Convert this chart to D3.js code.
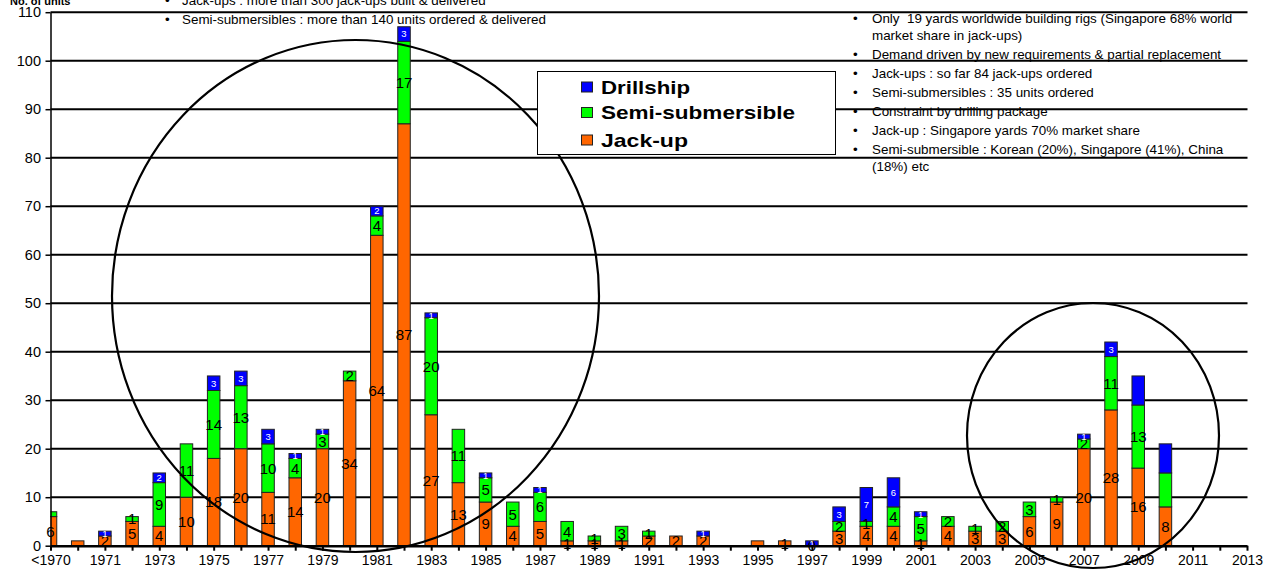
<!DOCTYPE html>
<html>
<head>
<meta charset="utf-8">
<script src="https://cdn.jsdelivr.net/npm/d3@7/dist/d3.min.js"></script>
<style>
  html, body { margin: 0; padding: 0; background: #fff; }
  svg { display: block; font-family: "Liberation Sans", Arial, sans-serif; }
  .note { white-space: pre; }
</style>
</head>
<body>
<svg id="chart" width="1265" height="572"></svg>
<script>
// Rig deliveries per year, by rig type
const categories = ["<1970", "1970", "1971", "1972", "1973", "1974", "1975", "1976", "1977", "1978",
  "1979", "1980", "1981", "1982", "1983", "1984", "1985", "1986", "1987", "1988",
  "1989", "1990", "1991", "1992", "1993", "1994", "1995", "1996", "1997", "1998",
  "1999", "2000", "2001", "2002", "2003", "2004", "2005", "2006", "2007", "2008",
  "2009", "2010", "2011", "2012", "2013"];

const jackUp = [6, 1, 2, 5, 4, 10, 18, 20, 11, 14,
  20, 34, 64, 87, 27, 13, 9, 4, 5, 1,
  1, 1, 2, 2, 2, 0, 1, 1, 0, 3,
  4, 4, 1, 4, 3, 3, 6, 9, 20, 28,
  16, 8, 0, 0, 0];

const semiSub = [1, 0, 0, 1, 9, 11, 14, 13, 10, 4,
  3, 2, 4, 17, 20, 11, 5, 5, 6, 4,
  1, 3, 1, 0, 0, 0, 0, 0, 0, 2,
  1, 4, 5, 2, 1, 2, 3, 1, 2, 11,
  13, 7, 0, 0, 0];

const drillship = [0, 0, 1, 0, 2, 0, 3, 3, 3, 1,
  1, 0, 2, 3, 1, 0, 1, 0, 1, 0,
  0, 0, 0, 0, 1, 0, 0, 0, 1, 3,
  7, 6, 1, 0, 0, 0, 0, 0, 1, 3,
  6, 6, 0, 0, 0];

const seriesNames = ["Jack-up", "Semi-submersible", "Drillship"];
const seriesColors = ["#FF6600", "#00FF00", "#0000FF"];
const yTicks = [0, 10, 20, 30, 40, 50, 60, 70, 80, 90, 100, 110];

// value labels left off, and zero values that still get a label
const hiddenLabels = ["Semi-submersible|<1970", "Jack-up|1970", "Jack-up|1995",
  "Drillship|2009", "Semi-submersible|2010", "Drillship|2010"];
const zeroLabels = ["Jack-up|1997"];

const notesLeft = [
  "Jack-ups : more than 300 jack-ups built & delivered",
  "Semi-submersibles : more than 140 units ordered & delivered"
];
const notesRight = [
  ["Only  19 yards worldwide building rigs (Singapore 68% world", "market share in jack-ups)"],
  ["Demand driven by new requirements & partial replacement"],
  ["Jack-ups : so far 84 jack-ups ordered"],
  ["Semi-submersibles : 35 units ordered"],
  ["Constraint by drilling package"],
  ["Jack-up : Singapore yards 70% market share"],
  ["Semi-submersible : Korean (20%), Singapore (41%), China", "(18%) etc"]
];

const svg = d3.select("#chart");
const plotLeft = 50.5, plotRight = 1247.5, plotTop = 12.2, plotBottom = 545.7;

const x = d3.scalePoint().domain(categories).range([plotLeft, 1247]);
const y = d3.scaleLinear().domain([0, 110]).range([plotBottom, plotTop]);
const barW = 12.5;

const rows = categories.map((c, i) => ({
  cat: c, "Jack-up": jackUp[i], "Semi-submersible": semiSub[i], "Drillship": drillship[i]
}));
const stacked = d3.stack().keys(seriesNames)(rows);

svg.append("defs").append("clipPath").attr("id", "plotClip")
  .append("rect").attr("x", plotLeft).attr("y", 0)
  .attr("width", plotRight - plotLeft).attr("height", plotBottom + 1);

// horizontal gridlines (top one closes the frame)
svg.append("g").selectAll("line").data(yTicks.filter(v => v > 0)).join("line")
  .attr("x1", plotLeft).attr("x2", plotRight)
  .attr("y1", d => y(d)).attr("y2", d => y(d))
  .attr("stroke", "#000").attr("stroke-width", 2);

// stacked bars
const barsG = svg.append("g").attr("clip-path", "url(#plotClip)");
stacked.forEach((s, si) => {
  barsG.append("g").selectAll("rect").data(s.filter(d => d[1] - d[0] > 0)).join("rect")
    .attr("x", d => x(d.data.cat) - barW / 2)
    .attr("width", barW)
    .attr("y", d => y(d[1]))
    .attr("height", d => y(d[0]) - y(d[1]))
    .attr("fill", seriesColors[si])
    .attr("stroke", "#222").attr("stroke-width", 1);
});

// value labels
stacked.forEach((s, si) => {
  const name = seriesNames[si];
  const data = s.filter(d => {
    const key = name + "|" + d.data.cat;
    const v = d[1] - d[0];
    if (hiddenLabels.includes(key)) return false;
    return v > 0 || zeroLabels.includes(key);
  });
  svg.append("g").selectAll("text").data(data).join("text")
    .attr("x", d => x(d.data.cat))
    .attr("y", d => y((d[0] + d[1]) / 2))
    .attr("dy", "0.36em")
    .attr("text-anchor", "middle")
    .attr("font-size", name === "Drillship" ? 9.5 : 15)
    .attr("fill", name === "Drillship" ? "#fff" : "#000")
    .text(d => d[1] - d[0]);
});

// axes
const yAxis = svg.append("g").attr("transform", `translate(${plotLeft},0)`)
  .call(d3.axisLeft(y).tickValues(yTicks).tickSize(5).tickSizeOuter(0));
yAxis.select(".domain").attr("stroke", "#000").attr("stroke-width", 1.5);
yAxis.selectAll(".tick line").attr("stroke", "#000").attr("stroke-width", 1.5);
yAxis.selectAll("text").attr("font-size", 14.5).attr("fill", "#000").attr("x", -9.5)
  .attr("font-family", "\"Liberation Sans\", Arial, sans-serif");

const xAxis = svg.append("g").attr("transform", `translate(0,${plotBottom})`)
  .call(d3.axisBottom(x).tickSize(5).tickSizeOuter(0)
    .tickFormat((d, i) => (i % 2 === 0 ? d : "")));
xAxis.select(".domain").attr("stroke", "#000").attr("stroke-width", 2.5);
xAxis.selectAll(".tick line").attr("stroke", "#000").attr("stroke-width", 2);
xAxis.selectAll("text").attr("font-size", 14).attr("fill", "#000").attr("y", 9)
  .attr("font-family", "\"Liberation Sans\", Arial, sans-serif");

// highlight ellipses around the two building booms
svg.append("ellipse").attr("cx", 355.5).attr("cy", 296).attr("rx", 243.5).attr("ry", 256)
  .attr("fill", "none").attr("stroke", "#000").attr("stroke-width", 2.2);
svg.append("ellipse").attr("cx", 1093).attr("cy", 435.5).attr("rx", 126).attr("ry", 132.5)
  .attr("fill", "none").attr("stroke", "#000").attr("stroke-width", 2.2);

// legend
const legend = svg.append("g");
legend.append("rect").attr("x", 537.5).attr("y", 71.5).attr("width", 298).attr("height", 83)
  .attr("fill", "#fff").attr("stroke", "#000").attr("stroke-width", 1);
const legendItems = [
  { name: "Drillship", color: seriesColors[2], y: 87, w: 89 },
  { name: "Semi-submersible", color: seriesColors[1], y: 112.5, w: 194 },
  { name: "Jack-up", color: seriesColors[0], y: 140, w: 87 }
];
legendItems.forEach(it => {
  legend.append("rect").attr("x", 581.5).attr("y", it.y - 5).attr("width", 11).attr("height", 10)
    .attr("fill", it.color).attr("stroke", "#222").attr("stroke-width", 1);
  legend.append("text").attr("x", 601).attr("y", it.y).attr("dy", "0.36em")
    .attr("font-size", 19).attr("font-weight", "bold").attr("fill", "#000")
    .attr("textLength", it.w).attr("lengthAdjust", "spacingAndGlyphs")
    .text(it.name);
});

// axis title
svg.append("text").attr("x", 10).attr("y", 5).attr("font-size", 11).attr("font-weight", "bold")
  .text("No. of units");

// notes
const notes = svg.append("g").attr("font-size", 13.4).attr("fill", "#000");
notesLeft.forEach((t, i) => {
  const by = 5 + i * 19;
  notes.append("text").attr("x", 165).attr("y", by).text("\u2022");
  notes.append("text").attr("class", "note").attr("x", 182).attr("y", by).text(t);
});
let ny = 23;
const rightLines = [];
notesRight.forEach(item => {
  item.forEach((t, j) => {
    rightLines.push({ t, bullet: j === 0, y: ny });
    ny += (j < item.length - 1) ? 17 : 19;
  });
});
rightLines.forEach(l => {
  if (l.bullet) notes.append("text").attr("x", 853).attr("y", l.y).text("\u2022");
  notes.append("text").attr("class", "note").attr("x", 872).attr("y", l.y).text(l.t);
});
</script>
</body>
</html>
